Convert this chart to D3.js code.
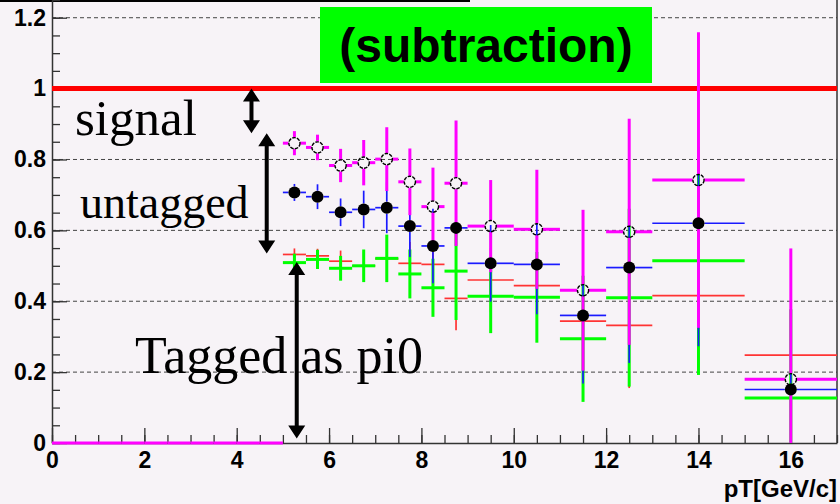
<!DOCTYPE html>
<html>
<head>
<meta charset="utf-8">
<script src="https://cdn.jsdelivr.net/npm/d3@7/dist/d3.min.js"></script>
<style>
  body { margin: 0; background: #f7f3f7; }
  svg { display: block; }
</style>
</head>
<body>
<svg id="chart" width="840" height="504"></svg>
<script>
// pT bins (GeV/c): centres and half widths
const binCenters = [5.25, 5.75, 6.25, 6.75, 7.25, 7.75, 8.25, 8.75, 9.5, 10.5, 11.5, 12.5, 14, 16];
const binHalfWidths = [0.25, 0.25, 0.25, 0.25, 0.25, 0.25, 0.25, 0.25, 0.5, 0.5, 0.5, 0.5, 1, 1];

// empty low-pT bins of the total histogram
const emptyBinCenters = [0.25, 0.75, 1.25, 1.75, 2.25, 2.75, 3.25, 3.75, 4.25, 4.75];
const emptyBinHalfWidth = 0.25;

// total (open circles)
const totalValues = [0.846, 0.834, 0.783, 0.791, 0.801, 0.737, 0.667, 0.733, 0.612, 0.603, 0.431, 0.596, 0.742, 0.180];
const totalErrors = [0.034, 0.036, 0.047, 0.064, 0.090, 0.094, 0.110, 0.177, 0.130, 0.168, 0.227, 0.319, 0.417, 0.369];

// untagged + tagged (filled circles)
const untaggedValues = [0.707, 0.695, 0.651, 0.659, 0.664, 0.612, 0.556, 0.607, 0.507, 0.504, 0.360, 0.495, 0.620, 0.151];
const untaggedErrors = [0.024, 0.035, 0.039, 0.053, 0.072, 0.087, 0.105, 0.050, 0.108, 0.141, 0.192, 0.269, 0.347, 0.300];

// tagged as pi0 (subtraction)
const taggedValues = [0.509, 0.518, 0.493, 0.500, 0.521, 0.477, 0.438, 0.485, 0.414, 0.411, 0.294, 0.410, 0.514, 0.127];
const taggedErrors = [0.025, 0.027, 0.035, 0.046, 0.067, 0.069, 0.082, 0.138, 0.104, 0.128, 0.178, 0.251, 0.322, 0.250];

// tagged as pi0 (reference)
const taggedRefValues = [0.532, 0.528, 0.513, 0.500, 0.520, 0.507, 0.504, 0.408, 0.460, 0.444, 0.344, 0.332, 0.416, 0.248];
const taggedRefErrors = [0.017, 0.020, 0.030, 0.040, 0.060, 0.060, 0.070, 0.090, 0.090, 0.100, 0.150, 0.177, 0.200, 0.200];

const xTicks = [0, 2, 4, 6, 8, 10, 12, 14, 16];
const yTicks = [0, 0.2, 0.4, 0.6, 0.8, 1, 1.2];
const gridValues = [0.2, 0.4, 0.6, 0.8, 1.2];
const referenceLevel = 1;

const svg = d3.select("#chart");
const W = 840, H = 504;
const plotLeft = 52, plotRight = 837, plotTop = 0, plotBottom = 443;
const markerR = 6;

const x = d3.scaleLinear().domain([0, 17]).range([plotLeft, plotRight]);
const y = d3.scaleLinear().domain([0, 1.25]).range([plotBottom, plotTop]);

svg.append("rect").attr("width", W).attr("height", H).attr("fill", "#f7f3f7");

// dark strip along the top edge
svg.append("rect").attr("x", 0).attr("y", 0).attr("width", 470).attr("height", 2).attr("fill", "#000");

// dashed horizontal grid
svg.append("g").selectAll("line").data(gridValues).join("line")
  .attr("x1", plotLeft).attr("x2", plotRight)
  .attr("y1", d => y(d)).attr("y2", d => y(d))
  .attr("stroke", "#444").attr("stroke-width", 1).attr("stroke-dasharray", "4,3");

// frame right edge
svg.append("line").attr("x1", plotRight).attr("x2", plotRight).attr("y1", plotTop).attr("y2", plotBottom)
  .attr("stroke", "#333").attr("stroke-width", 1.5);

// axes
const fontTick = "bold 23px 'Liberation Sans', Arial, Helvetica, sans-serif";

const yMinor = svg.append("g").attr("transform", `translate(${plotLeft},0)`)
  .call(d3.axisLeft(y).tickValues(d3.range(0, 1.2501, 0.05)).tickSizeInner(-8).tickSizeOuter(0).tickFormat(""));
yMinor.select(".domain").remove();
yMinor.selectAll("line").attr("stroke", "#333").attr("stroke-width", 1.3);

const yAxis = svg.append("g").attr("transform", `translate(${plotLeft},0)`)
  .call(d3.axisLeft(y).tickValues(yTicks).tickSizeInner(-15).tickSizeOuter(0).tickPadding(6)
    .tickFormat(d => d3.format("~g")(d)));
yAxis.select(".domain").attr("stroke", "#333").attr("stroke-width", 1.5);
yAxis.selectAll("line").attr("stroke", "#333").attr("stroke-width", 1.3);
yAxis.selectAll("text").style("font", fontTick).attr("fill", "#000");

const xMinor = svg.append("g").attr("transform", `translate(0,${plotBottom})`)
  .call(d3.axisBottom(x).tickValues(d3.range(0, 17.01, 0.5)).tickSizeInner(-8).tickSizeOuter(0).tickFormat(""));
xMinor.select(".domain").remove();
xMinor.selectAll("line").attr("stroke", "#333").attr("stroke-width", 1.3);

const xAxis = svg.append("g").attr("transform", `translate(0,${plotBottom})`)
  .call(d3.axisBottom(x).tickValues(xTicks).tickSizeInner(-15).tickSizeOuter(0).tickPadding(9)
    .tickFormat(d3.format("d")));
xAxis.select(".domain").attr("stroke", "#333").attr("stroke-width", 1.5);
xAxis.selectAll("line").attr("stroke", "#333").attr("stroke-width", 1.3);
xAxis.selectAll("text").style("font", fontTick).attr("fill", "#000");

svg.append("text").attr("x", plotRight).attr("y", 497).attr("text-anchor", "end")
  .style("font", "bold 24px 'Liberation Sans', Arial, Helvetica, sans-serif")
  .text("pT[GeV/c]");

// reference level at 1
svg.append("line").attr("x1", plotLeft).attr("x2", plotRight)
  .attr("y1", y(referenceLevel)).attr("y2", y(referenceLevel))
  .attr("stroke", "#ff0000").attr("stroke-width", 5);

// error-bar crosses; gap leaves room for a marker of radius r
function drawSeries(values, errors, halfWidths, color, width, r) {
  const g = svg.append("g").attr("stroke", color).attr("stroke-width", width).attr("fill", "none");
  values.forEach((v, i) => {
    const cx = x(binCenters[i]), cy = y(v);
    const xl = x(binCenters[i] - halfWidths[i]), xr = x(binCenters[i] + halfWidths[i]);
    const yt = Math.max(y(v + errors[i]), plotTop), yb = Math.min(y(v - errors[i]), plotBottom);
    const segs = [];
    if (r > 0) {
      segs.push([xl, cy, cx - r, cy], [cx + r, cy, xr, cy]);
      if (yt < cy - r) segs.push([cx, yt, cx, cy - r]);
      if (yb > cy + r) segs.push([cx, cy + r, cx, yb]);
    } else {
      segs.push([xl, cy, xr, cy], [cx, yt, cx, yb]);
    }
    segs.forEach(s => g.append("line").attr("x1", s[0]).attr("y1", s[1]).attr("x2", s[2]).attr("y2", s[3]));
  });
  return g;
}

drawSeries(taggedRefValues, taggedRefErrors, binHalfWidths, "#ff3333", 1.7, 0);
drawSeries(taggedValues, taggedErrors, binHalfWidths, "#00ff00", 3, 0);
drawSeries(untaggedValues, untaggedErrors, binHalfWidths, "#1a1aff", 1.7, markerR);
drawSeries(totalValues, totalErrors, binHalfWidths, "#ff00ff", 3, markerR);

// empty bins of the total histogram along zero
svg.append("g").selectAll("line").data(emptyBinCenters).join("line")
  .attr("x1", d => x(d - emptyBinHalfWidth)).attr("x2", d => x(d + emptyBinHalfWidth))
  .attr("y1", y(0)).attr("y2", y(0))
  .attr("stroke", "#ff00ff").attr("stroke-width", 3);

// markers
svg.append("g").selectAll("circle").data(untaggedValues).join("circle")
  .attr("cx", (d, i) => x(binCenters[i])).attr("cy", d => y(d)).attr("r", markerR)
  .attr("fill", "#000");
svg.append("g").selectAll("circle").data(totalValues).join("circle")
  .attr("cx", (d, i) => x(binCenters[i])).attr("cy", d => y(d)).attr("r", markerR - 0.4)
  .attr("fill", "none").attr("stroke", "#000").attr("stroke-width", 1.4)
  .attr("stroke-dasharray", "3.5,1.2");

// title box
svg.append("rect").attr("x", 320).attr("y", 7).attr("width", 332).attr("height", 76).attr("fill", "#00ff00");
svg.append("text").attr("x", 486).attr("y", 62).attr("text-anchor", "middle")
  .style("font", "bold 48px 'Liberation Sans', Arial, Helvetica, sans-serif")
  .text("(subtraction)");

// annotations
const serif = "'Liberation Serif', 'Times New Roman', Times, serif";
svg.append("text").attr("x", 75).attr("y", 135).style("font", `51px ${serif}`).text("signal");
svg.append("text").attr("x", 80).attr("y", 218).style("font", `46px ${serif}`).text("untagged");
svg.append("text").attr("x", 135).attr("y", 373).style("font", `52px ${serif}`).text("Tagged as pi0");

// double-headed arrows between levels
const arrows = [
  { x: 4.32, y1: 1.0, y2: 0.874 },
  { x: 4.65, y1: 0.874, y2: 0.535 },
  { x: 5.30, y1: 0.511, y2: 0.013 }
];
function arrowPath(px, ya, yb) {
  const hw = 8.5, hl = 13, sw = 2;
  return `M${px},${ya} L${px + hw},${ya + hl} L${px + sw},${ya + hl} L${px + sw},${yb - hl} ` +
         `L${px + hw},${yb - hl} L${px},${yb} L${px - hw},${yb - hl} L${px - sw},${yb - hl} ` +
         `L${px - sw},${ya + hl} L${px - hw},${ya + hl} Z`;
}
svg.append("g").selectAll("path").data(arrows).join("path")
  .attr("d", d => arrowPath(x(d.x), y(d.y1), y(d.y2)))
  .attr("fill", "#000");
</script>
</body>
</html>
